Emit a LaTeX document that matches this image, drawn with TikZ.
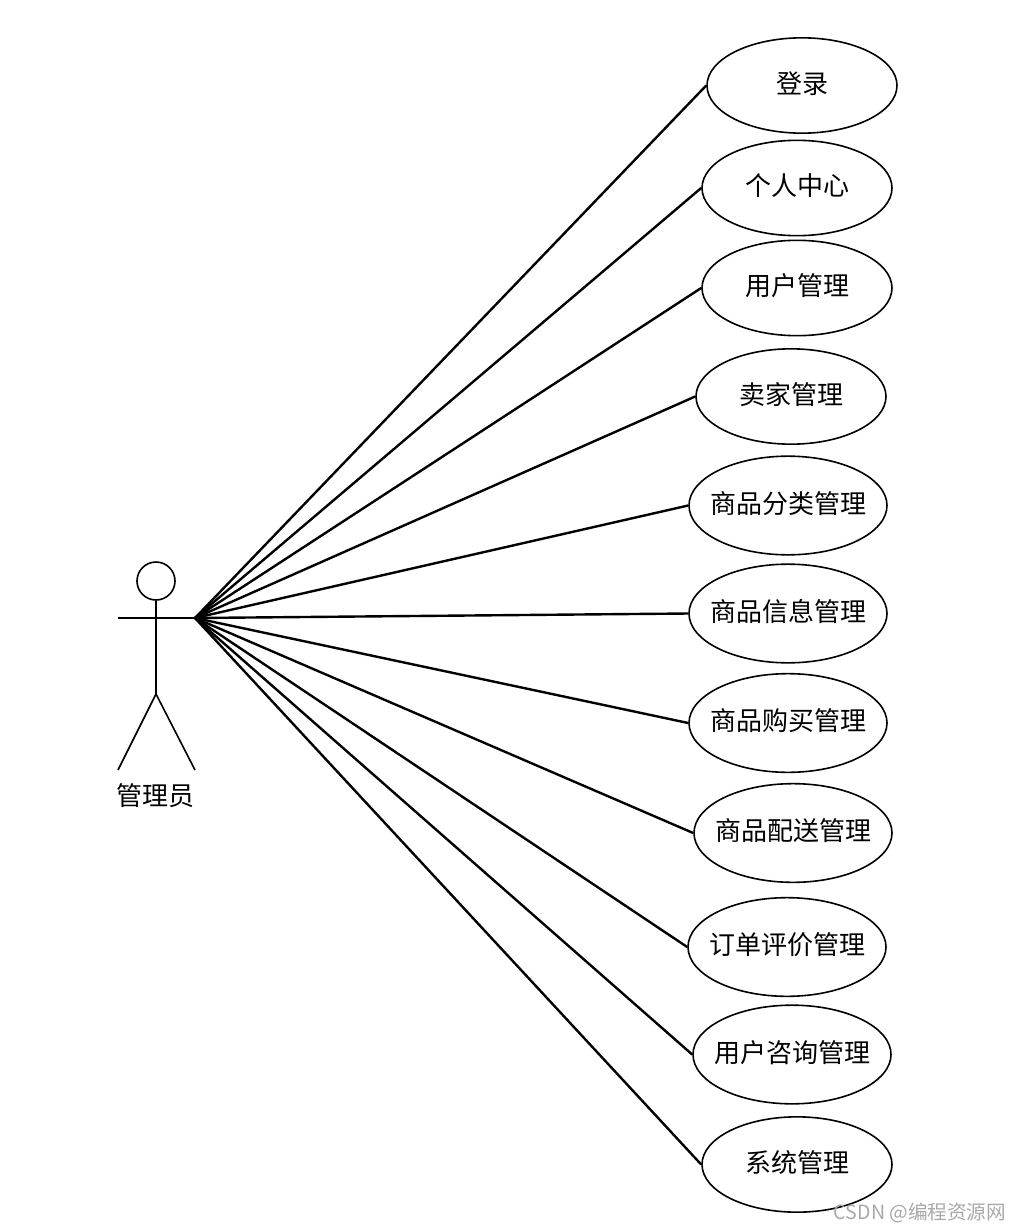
\documentclass[tikz,border=0pt]{standalone}
\usepackage{fontspec}
\usepackage{xcolor}
\usetikzlibrary{shapes.geometric}
\newfontfamily\cjk{Noto Sans CJK SC}
\definecolor{markGray}{HTML}{A8A8A8}
\tikzset{
  usecase/.style={draw=black, line width=1.2pt, ellipse, inner xsep=-30pt, inner ysep=0pt, text depth=5pt, minimum width=142.5pt, minimum height=71.5pt},
  usecasewide/.style={usecase, minimum width=148.5pt, minimum height=74pt},
  limb/.style={draw=black, line width=1.2pt},
  link/.style={draw=black, line width=1.8pt}
}
\begin{document}
\begin{tikzpicture}[x=0.75pt, y=-0.75pt, every node/.style={font=\cjk\fontsize{19.5pt}{23pt}\selectfont}]
    \useasboundingbox (0,0) rectangle (1020,1231);

    % actor
    \node[limb, circle, inner sep=0pt, minimum size=28.5pt] (head) at (156,581) {};
    \coordinate (neck) at (156,618);
    \coordinate (armL) at (118,618);
    \coordinate (hand) at (195,618);
    \coordinate (hip) at (156,694);
    \coordinate (footL) at (118,770);
    \coordinate (footR) at (195,770);
    \draw[limb] (armL) -- (hand);
    \draw[limb] (head) -- (hip);
    \draw[limb] (footL) -- (hip) -- (footR);
    \node (actor) at (155,796) {管理员};

    % use cases
    \node[usecase] (login) at (802,85.5) {登录};
    \node[usecase] (center) at (797,188) {个人中心};
    \node[usecase] (user) at (797,288) {用户管理};
    \node[usecase] (seller) at (791,396.5) {卖家管理};
    \node[usecasewide] (sort) at (788,505.5) {商品分类管理};
    \node[usecasewide] (info) at (788,613.5) {商品信息管理};
    \node[usecasewide] (buy) at (788,723) {商品购买管理};
    \node[usecasewide] (ship) at (793,833) {商品配送管理};
    \node[usecasewide] (review) at (787,947) {订单评价管理};
    \node[usecasewide] (ask) at (792,1054.5) {用户咨询管理};
    \node[usecase] (system) at (797,1164.5) {系统管理};

    \foreach \b in {login,center,user,seller,sort,info,buy,ship,review,ask,system}
      \draw[link] (hand) -- (\b.west);

    \node[text=markGray, font=\cjk\fontsize{14.7pt}{17pt}\selectfont, inner sep=0pt] (mark) at (920,1213) {CSDN @编程资源网};
  \end{tikzpicture}
\end{document}
